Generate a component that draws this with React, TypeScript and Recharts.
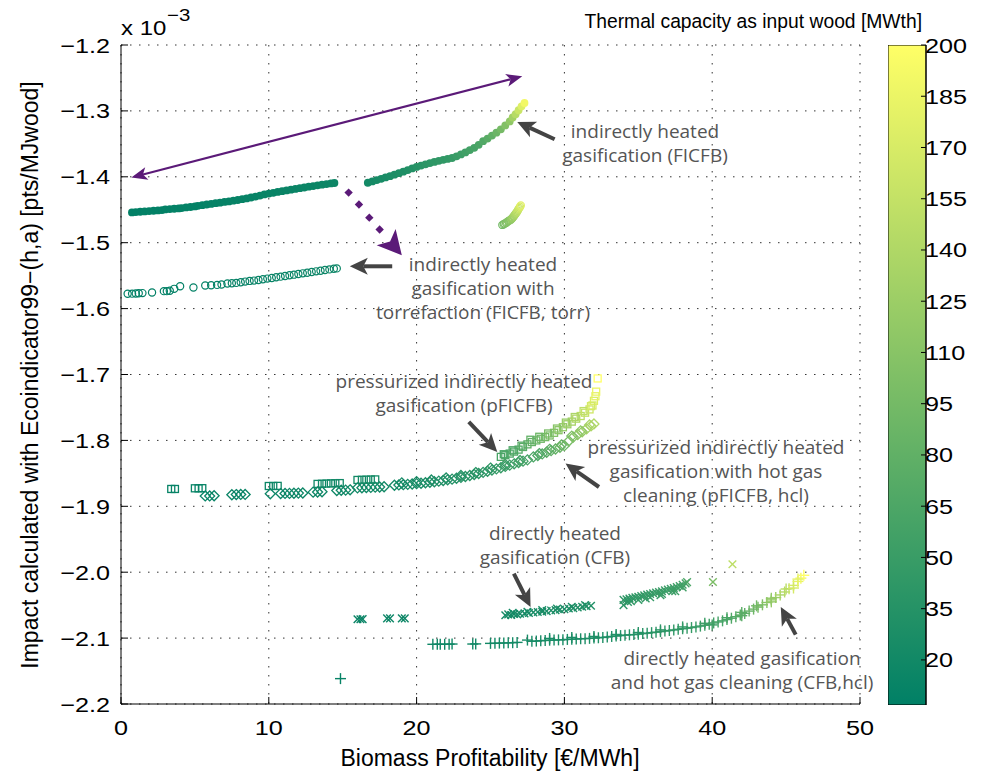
import React from 'react';
import { ScatterChart, Scatter, XAxis, YAxis, CartesianGrid, ReferenceLine, BarChart, Bar } from 'recharts';

type Pt = [number, number, number]; // [profitability €/MWh, impact x1e-3, capacity MWth]

const xTicks = [0, 10, 20, 30, 40, 50];
const yTicks = [-2.2, -2.1, -2.0, -1.9, -1.8, -1.7, -1.6, -1.5, -1.4, -1.3, -1.2];
const cbTicks = [20, 35, 50, 65, 80, 95, 110, 125, 140, 155, 170, 185, 200];
const cbRange: [number, number] = [6.8, 200];

// FICFB (filled dots)
const ficfb: Pt[] = [
  [0.74,-1.4540,8],[1.0,-1.4535,8],[1.3,-1.4530,8],[1.6,-1.4525,9],[1.9,-1.4520,9],[2.2,-1.4515,9],[2.5,-1.4510,9],[2.77,-1.4505,9],
  [3.0,-1.4495,9],[3.3,-1.4490,9],[3.6,-1.4485,10],[3.9,-1.4480,10],[4.1,-1.4475,10],
  [4.4,-1.4465,10],[4.7,-1.4458,10],[5.0,-1.4450,10],
  [5.2,-1.4440,10],[5.5,-1.4430,10],[5.8,-1.4420,11],[6.1,-1.4412,11],[6.4,-1.4400,11],[6.7,-1.4392,11],[7.0,-1.4382,11],[7.3,-1.4373,11],
  [7.6,-1.4362,12],[7.9,-1.4352,12],[8.2,-1.4340,12],[8.5,-1.4328,12],[8.8,-1.4314,12],[9.1,-1.4300,12],[9.4,-1.4285,13],[9.7,-1.4268,13],
  [10.0,-1.4255,13],[10.3,-1.4243,13],[10.6,-1.4230,13],[10.9,-1.4218,14],[11.2,-1.4207,14],[11.5,-1.4195,14],[11.8,-1.4184,14],[12.1,-1.4173,15],
  [12.4,-1.4162,15],[12.7,-1.4150,15],[13.0,-1.4140,15],[13.3,-1.4130,16],[13.6,-1.4120,16],[13.9,-1.4110,16],[14.2,-1.4100,16],[14.44,-1.4094,17],
  [16.7,-1.4090,22],[17.0,-1.4070,23],[17.3,-1.4050,24],[17.6,-1.4030,25],[17.9,-1.4010,26],[18.2,-1.3990,27],[18.5,-1.3968,28],[18.8,-1.3945,29],
  [19.1,-1.3922,30],[19.4,-1.3898,32],[19.7,-1.3873,34],[20.0,-1.3850,36],[20.3,-1.3830,38],[20.6,-1.3810,40],[20.9,-1.3792,41],[21.2,-1.3775,42],
  [21.5,-1.3758,43],[21.8,-1.3742,44],[22.1,-1.3728,45],[22.4,-1.3715,47],[22.7,-1.3690,50],[23.0,-1.3660,52],[23.3,-1.3630,55],[23.6,-1.3595,58],
  [23.9,-1.3560,60],[24.2,-1.3515,64],[24.5,-1.3460,68],[24.8,-1.3420,74],[25.1,-1.3375,80],[25.4,-1.3330,88],[25.7,-1.3280,96],[26.0,-1.3220,105],
  [26.3,-1.3160,115],[26.5,-1.3100,130],[26.7,-1.3050,145],[26.9,-1.2990,160],[27.1,-1.2930,175],[27.3,-1.2880,190],
];

// small open-circle cluster near FICFB end
const ficfbCluster: Pt[] = [
  [25.8,-1.4730,95],[25.9,-1.4720,98],[25.95,-1.4710,100],[26.05,-1.4700,103],[26.1,-1.4690,105],[26.2,-1.4675,108],[26.25,-1.4665,110],
  [26.35,-1.4655,114],[26.4,-1.4645,118],[26.45,-1.4632,121],[26.5,-1.4620,125],[26.55,-1.4605,128],[26.6,-1.4590,132],[26.65,-1.4575,136],
  [26.7,-1.4560,140],[26.75,-1.4545,145],[26.8,-1.4530,150],[26.85,-1.4510,155],[26.9,-1.4490,160],[26.95,-1.4472,165],[27.0,-1.4455,170],[27.05,-1.4435,178],
];

// FICFB, torr (open circles)
const torr: Pt[] = [
  [0.45,-1.5775,8],[0.75,-1.5773,8],[1.0,-1.5770,8],[1.2,-1.5768,8],[1.45,-1.5765,8],[2.1,-1.5755,8],[2.9,-1.5735,9],[3.1,-1.5735,9],
  [3.3,-1.5730,9],[3.6,-1.5700,9],[4.0,-1.5660,9],[4.9,-1.5680,10],[5.7,-1.5650,10],[6.1,-1.5645,10],[6.5,-1.5640,10],[6.8,-1.5635,10],
  [7.2,-1.5620,10],[7.5,-1.5615,11],[7.8,-1.5610,11],[8.1,-1.5600,11],[8.4,-1.5590,11],[8.7,-1.5580,11],[9.0,-1.5575,11],[9.3,-1.5565,12],
  [9.6,-1.5555,12],[9.9,-1.5545,12],[10.2,-1.5535,12],[10.5,-1.5525,12],[10.8,-1.5515,12],[11.1,-1.5505,13],[11.4,-1.5495,13],[11.7,-1.5485,13],
  [12.0,-1.5475,13],[12.3,-1.5465,13],[12.6,-1.5455,14],[12.9,-1.5445,14],[13.2,-1.5435,14],[13.5,-1.5425,14],[13.8,-1.5415,15],[14.1,-1.5405,15],
  [14.4,-1.5395,15],[14.6,-1.5390,15],
];

// pFICFB (squares)
const pficfb: Pt[] = [
  [3.4,-1.8737,12],[3.65,-1.8737,12],[5.0,-1.8727,13],[5.25,-1.8727,13],[5.5,-1.8725,13],[10.0,-1.8692,16],[10.3,-1.8692,16],[10.6,-1.8690,17],
  [13.3,-1.8660,18],[13.6,-1.8658,18],[13.9,-1.8655,19],[14.2,-1.8652,19],[14.5,-1.8650,19],[14.8,-1.8648,20],[16.0,-1.8600,21],[16.3,-1.8598,21],
  [16.6,-1.8596,22],[16.9,-1.8594,22],[17.2,-1.8592,23],
  [25.7,-1.8250,62],[26.0,-1.8225,64],[26.3,-1.8200,66],[26.6,-1.8170,68],[26.9,-1.8140,70],[27.2,-1.8100,74],[27.5,-1.8060,78],[27.8,-1.8025,82],
  [28.1,-1.8000,86],[28.4,-1.7975,90],[28.7,-1.7950,95],[29.0,-1.7925,100],[29.3,-1.7885,106],[29.6,-1.7845,112],[29.9,-1.7800,118],[30.2,-1.7755,125],
  [30.5,-1.7715,132],[30.8,-1.7670,140],[31.1,-1.7630,148],[31.4,-1.7580,156],[31.7,-1.7530,164],[31.9,-1.7470,170],[32.0,-1.7400,175],[32.1,-1.7330,180],
  [32.15,-1.7260,185],[32.25,-1.7060,200],
  [25.9,-1.8210,63],[26.5,-1.8150,67],[27.1,-1.8080,73],[27.7,-1.7990,81],[28.3,-1.7945,89],[28.9,-1.7895,98],[29.5,-1.7820,110],[30.1,-1.7730,122],
  [30.7,-1.7645,137],[31.3,-1.7555,152],[31.8,-1.7480,168],
];

// pFICFB, hcl (diamonds)
const pficfbHcl: Pt[] = [
  [5.7,-1.8843,13],[6.0,-1.8843,13],[6.3,-1.8840,13],[7.5,-1.8825,14],[7.8,-1.8822,14],[8.1,-1.8820,14],[8.4,-1.8820,14],[10.1,-1.8810,15],
  [10.8,-1.8807,15],[11.1,-1.8805,15],[11.4,-1.8804,16],[11.7,-1.8802,16],[12.0,-1.8800,16],[12.3,-1.8798,16],[13.0,-1.8785,17],[13.3,-1.8783,17],
  [13.6,-1.8780,17],[14.6,-1.8760,18],[14.9,-1.8757,18],[15.2,-1.8754,18],[15.5,-1.8750,19],[16.0,-1.8720,19],[16.3,-1.8718,20],[16.6,-1.8716,20],
  [16.9,-1.8713,20],[17.2,-1.8710,21],[17.5,-1.8707,21],[17.8,-1.8704,21],
  [18.5,-1.8680,22],[18.8,-1.8676,23],[19.1,-1.8672,23],[19.4,-1.8667,24],[19.7,-1.8662,24],[20.0,-1.8656,25],[20.3,-1.8650,26],[20.6,-1.8643,27],
  [20.9,-1.8635,28],[21.2,-1.8627,29],[21.5,-1.8618,30],[21.8,-1.8608,31],[22.1,-1.8598,32],[22.4,-1.8588,33],[22.7,-1.8575,34],[23.0,-1.8562,35],
  [23.3,-1.8548,36],[23.6,-1.8533,37],[23.9,-1.8518,38],[24.2,-1.8502,39],[24.5,-1.8485,40],[24.8,-1.8468,42],[25.1,-1.8450,44],[25.4,-1.8432,46],
  [25.7,-1.8415,48],[26.0,-1.8395,50],[26.3,-1.8375,52],[26.6,-1.8355,54],[26.9,-1.8335,56],[27.2,-1.8315,58],[27.5,-1.8295,60],
  [27.9,-1.8250,64],[28.2,-1.8230,66],[28.5,-1.8205,70],[28.8,-1.8180,74],[29.1,-1.8155,78],[29.4,-1.8130,82],[29.7,-1.8105,86],[30.0,-1.8080,90],
  [30.3,-1.8010,98],[30.6,-1.7950,105],[30.9,-1.7910,112],[31.2,-1.7870,120],[31.5,-1.7825,128],[31.8,-1.7780,136],[32.0,-1.7750,142],
  [19.0,-1.8645,23],[20.0,-1.8625,25],[21.0,-1.8600,28],[22.0,-1.8570,31],[23.0,-1.8532,35],[24.0,-1.8488,38],[25.0,-1.8420,43],[26.0,-1.8365,50],
  [27.0,-1.8305,57],[28.3,-1.8200,67],[29.0,-1.8135,77],[29.8,-1.8070,87],[30.5,-1.7935,103],[31.1,-1.7855,117],[31.7,-1.7765,134],
];

// CFB (x markers)
const cfb: Pt[] = [
  [16.0,-2.0715,14],[16.2,-2.0715,14],[16.35,-2.0712,14],[18.0,-2.0700,16],[18.2,-2.0700,16],[19.0,-2.0700,17],[19.2,-2.0700,17],
  [26.0,-2.0654,22],[26.2,-2.0640,22],[26.4,-2.0650,22],[26.6,-2.0635,23],[26.8,-2.0640,23],[27.0,-2.0630,23],[27.3,-2.0625,24],[27.6,-2.0620,24],
  [27.9,-2.0610,25],[28.2,-2.0605,25],[28.5,-2.0600,26],[28.8,-2.0590,26],[29.1,-2.0580,27],[29.4,-2.0575,27],[29.7,-2.0565,28],[30.0,-2.0560,28],
  [30.3,-2.0550,29],[30.6,-2.0545,29],[30.9,-2.0535,30],[31.2,-2.0525,30],[31.5,-2.0515,31],[31.8,-2.0510,31],
  [26.5,-2.0615,22],[27.5,-2.0600,24],[28.5,-2.0575,26],[29.5,-2.0550,27],[30.5,-2.0525,29],[31.4,-2.0500,31],
  [34.0,-2.0500,40],[34.0,-2.0420,42],[34.2,-2.0410,42],[34.4,-2.0400,43],[34.5,-2.0440,43],[34.6,-2.0390,43],[34.8,-2.0380,44],[35.0,-2.0372,45],
  [35.2,-2.0362,45],[35.4,-2.0352,46],[35.5,-2.0400,46],[35.6,-2.0340,46],[35.8,-2.0330,47],[36.0,-2.0320,48],[36.2,-2.0310,48],[36.4,-2.0300,49],
  [36.5,-2.0350,49],[36.6,-2.0290,50],[36.8,-2.0275,50],[37.0,-2.0265,51],[37.2,-2.0252,52],[37.4,-2.0240,52],[37.5,-2.0290,53],[37.6,-2.0225,53],
  [37.8,-2.0210,54],[38.0,-2.0190,55],[38.2,-2.0170,60],[38.3,-2.0150,65],
  [34.3,-2.0450,42],[35.0,-2.0420,45],[35.8,-2.0380,47],[36.6,-2.0330,50],[37.3,-2.0290,52],[38.0,-2.0230,55],
  [40.05,-2.0148,100],[41.37,-1.9880,150],
];

// CFB, hcl (+ markers)
const cfbHcl: Pt[] = [
  [14.85,-2.1615,12],
  [21.1,-2.1094,18],[21.4,-2.1094,18],[21.6,-2.1092,18],[21.9,-2.1094,19],[22.2,-2.1092,19],[22.4,-2.1090,19],[23.8,-2.1090,20],[24.0,-2.1088,20],
  [25.0,-2.1080,21],[25.3,-2.1078,21],[25.6,-2.1076,21],[25.9,-2.1074,22],[26.2,-2.1072,22],[26.5,-2.1070,22],[26.8,-2.1065,23],[27.8,-2.1048,24],
  [28.1,-2.1045,24],[28.4,-2.1040,24],[28.7,-2.1036,25],[29.0,-2.1032,25],[29.3,-2.1030,25],[29.6,-2.1027,26],[29.9,-2.1024,26],[30.2,-2.1020,27],
  [30.5,-2.1017,27],[30.8,-2.1014,27],[31.1,-2.1010,28],[31.4,-2.1008,28],[31.7,-2.1004,29],[32.0,-2.1000,29],[32.3,-2.0995,30],[32.6,-2.0990,30],
  [32.9,-2.0983,31],[33.2,-2.0975,31],[33.5,-2.0968,32],[33.8,-2.0962,32],[34.1,-2.0955,33],[34.4,-2.0950,34],[34.7,-2.0947,34],[35.0,-2.0940,35],
  [35.3,-2.0932,36],[35.6,-2.0925,37],[35.9,-2.0917,38],[36.2,-2.0910,39],[36.5,-2.0902,40],[36.8,-2.0893,41],[37.1,-2.0885,42],[37.4,-2.0876,43],
  [37.7,-2.0867,44],[38.0,-2.0858,45],[38.3,-2.0850,46],[38.6,-2.0840,47],[38.9,-2.0830,48],[39.2,-2.0818,50],[39.5,-2.0805,52],[39.8,-2.0790,54],
  [40.1,-2.0770,56],[40.4,-2.0755,58],[40.7,-2.0738,60],[41.0,-2.0718,63],[41.3,-2.0698,66],[41.6,-2.0675,70],[41.9,-2.0650,74],[42.2,-2.0625,78],
  [42.5,-2.0590,84],[42.8,-2.0560,90],[43.1,-2.0530,96],[43.4,-2.0495,103],[43.7,-2.0460,110],[44.0,-2.0420,118],[44.3,-2.0385,126],[44.6,-2.0345,135],
  [44.9,-2.0300,145],[45.2,-2.0250,156],[45.5,-2.0200,168],[45.8,-2.0140,180],[46.0,-2.0090,190],[46.2,-2.0047,200],
  [27.5,-2.1030,24],[29.0,-2.1005,25],[30.5,-2.0990,27],[32.0,-2.0975,29],[33.5,-2.0945,32],[35.0,-2.0915,35],[36.5,-2.0875,40],[38.0,-2.0830,45],
  [39.5,-2.0775,52],[41.0,-2.0690,63],[42.0,-2.0610,76],[43.0,-2.0510,94],[44.0,-2.0395,118],[45.0,-2.0255,148],[45.8,-2.0105,180],
  [40.0,-2.0800,55],[42.0,-2.0660,76],[44.0,-2.0450,118],[45.5,-2.0240,168],
];

// purple dotted arrow dots
const purpleDots: [number, number][] = [[15.4,-1.424],[16.1,-1.442],[16.8,-1.462],[17.5,-1.480]];

// arrows: [x1, y1, x2(tip), y2(tip)]
const purpleDouble: [number, number, number, number] = [0.7, -1.401, 27.15, -1.2475];
const purpleDottedHead: [number, number, number, number] = [17.5, -1.480, 19.0, -1.519];
const grayArrows: [number, number, number, number][] = [
  [29.34, -1.3431, 26.81, -1.3168],
  [18.35, -1.5358, 15.48, -1.5358],
  [23.53, -1.7720, 25.46, -1.8176],
  [32.34, -1.8707, 30.08, -1.8352],
  [26.58, -2.0021, 27.71, -2.0528],
  [45.65, -2.0947, 44.64, -2.0528],
];

const annotations: { x: number; y: number; lines: string[] }[] = [
  { x: 645, y: 138, lines: ['indirectly heated', 'gasification (FICFB)'] },
  { x: 483, y: 271, lines: ['indirectly heated', 'gasification with', 'torrefaction (FICFB, torr)'] },
  { x: 464, y: 388, lines: ['pressurized indirectly heated', 'gasification (pFICFB)'] },
  { x: 716, y: 454, lines: ['pressurized indirectly heated', 'gasification with hot gas', 'cleaning (pFICFB, hcl)'] },
  { x: 555, y: 540, lines: ['directly heated', 'gasification (CFB)'] },
  { x: 742, y: 665, lines: ['directly heated gasification', 'and hot gas cleaning (CFB,hcl)'] },
];

const CMIN = cbRange[0];
const CMAX = cbRange[1];
function summer(c: number): string {
  const t = Math.max(0, Math.min(1, (c - CMIN) / (CMAX - CMIN)));
  return `rgb(${Math.round(255 * t)},${Math.round(255 * (0.5 + 0.5 * t))},102)`;
}

const rows = (pts: Pt[]) => pts.map(([x, y, c]) => ({ x, y, c }));

const FONT = '"Liberation Sans", Arial, Helvetica, sans-serif';
const ANN_FONT = '"Open Sans", "Noto Sans", sans-serif';
const PURPLE = '#5b1a78';
const GRAY = '#444444';
const SX = 1.2; // horizontal stretch of tick text

const makeShape = (kind: string) => (props: any) => {
  const { cx, cy, payload } = props;
  if (cx == null || cy == null) return <g />;
  const col = payload && payload.c != null ? summer(payload.c) : PURPLE;
  switch (kind) {
    case 'dot':
      return <circle cx={cx} cy={cy} r={3.9} fill={col} />;
    case 'ocircle':
      return <circle cx={cx} cy={cy} r={3.6} fill="none" stroke={col} strokeWidth={1.2} />;
    case 'square':
      return <rect x={cx - 3.5} y={cy - 3.5} width={7} height={7} fill="none" stroke={col} strokeWidth={1.3} />;
    case 'diamond':
      return <polygon points={`${cx},${cy - 5} ${cx + 5},${cy} ${cx},${cy + 5} ${cx - 5},${cy}`} fill="none" stroke={col} strokeWidth={1.3} />;
    case 'x':
      return (
        <g stroke={col} strokeWidth={1.4}>
          <line x1={cx - 3.8} y1={cy - 3.8} x2={cx + 3.8} y2={cy + 3.8} />
          <line x1={cx - 3.8} y1={cy + 3.8} x2={cx + 3.8} y2={cy - 3.8} />
        </g>
      );
    case 'plus':
      return (
        <g stroke={col} strokeWidth={1.4}>
          <line x1={cx - 5.5} y1={cy} x2={cx + 5.5} y2={cy} />
          <line x1={cx} y1={cy - 5.5} x2={cx} y2={cy + 5.5} />
        </g>
      );
    case 'pdiamond':
      return <polygon points={`${cx},${cy - 4.2} ${cx + 4.2},${cy} ${cx},${cy + 4.2} ${cx - 4.2},${cy}`} fill={PURPLE} />;
    default:
      return <g />;
  }
};

function headPoints(x1: number, y1: number, x2: number, y2: number, L: number, W: number, notch: number) {
  const dx = x2 - x1, dy = y2 - y1;
  const len = Math.hypot(dx, dy) || 1;
  const ux = dx / len, uy = dy / len;
  const px = -uy, py = ux;
  const bx = x2 - ux * L, by = y2 - uy * L;
  const nx = x2 - ux * L * notch, ny = y2 - uy * L * notch;
  return {
    pts: `${x2},${y2} ${bx + px * W},${by + py * W} ${nx},${ny} ${bx - px * W},${by - py * W}`,
    nx, ny,
  };
}

const arrowShape = (color: string, width: number, L: number, W: number, double: boolean, lineToo: boolean) => (p: any) => {
  const { x1, y1, x2, y2 } = p;
  if ([x1, y1, x2, y2].some((v) => v == null || isNaN(v))) return <g />;
  const h2 = headPoints(x1, y1, x2, y2, L, W, 0.75);
  const h1 = double ? headPoints(x2, y2, x1, y1, L, W, 0.75) : null;
  const sx = h1 ? h1.nx : x1, sy = h1 ? h1.ny : y1;
  return (
    <g>
      {lineToo && <line x1={sx} y1={sy} x2={h2.nx} y2={h2.ny} stroke={color} strokeWidth={width} />}
      <polygon points={h2.pts} fill={color} />
      {h1 && <polygon points={h1.pts} fill={color} />}
    </g>
  );
};

const fmtY = (v: number) => v.toFixed(1).replace('-', '\u2212');

const StretchText = ({ x, y, anchor, size, children }: any) => (
  <text transform={`translate(${x},${y}) scale(${SX},1)`} x={0} y={0} textAnchor={anchor} fontFamily={FONT} fontSize={size} fill="#000">
    {children}
  </text>
);

const XTick = (p: any) => <StretchText x={p.x} y={p.y + 38} anchor="middle" size={21}>{p.payload.value}</StretchText>;
const YTick = (p: any) => <StretchText x={p.x - 18} y={p.y + 7.5} anchor="end" size={21}>{fmtY(p.payload.value)}</StretchText>;
const CbTick = (p: any) => <StretchText x={p.x + 4} y={p.y + 7.5} anchor="start" size={21}>{p.payload.value}</StretchText>;

const cbData = [{ name: 'cb', range: cbRange }];

export default function App() {
  return (
    <div style={{ position: 'absolute', left: 0, top: 0, width: 985, height: 774, background: '#fff' }}>
      <div style={{ position: 'absolute', left: 0, top: 0 }}>
        <ScatterChart width={985} height={774} margin={{ top: 45, right: 125, bottom: 40, left: 61 }}>
          <CartesianGrid stroke="#333" strokeDasharray="1.5 7.5" strokeWidth={1} />
          <XAxis
            type="number" dataKey="x" domain={[0, 50]} ticks={xTicks} allowDataOverflow height={30}
            axisLine={{ stroke: '#000' }} tickLine={{ stroke: '#000' }} tickSize={-7} tickMargin={0} tick={<XTick />}
          />
          <YAxis
            type="number" dataKey="y" domain={[-2.2, -1.2]} ticks={yTicks} allowDataOverflow width={60}
            axisLine={{ stroke: '#000' }} tickLine={{ stroke: '#000' }} tickSize={-7} tickMargin={0} tick={<YTick />}
          />
          <Scatter data={rows(torr)} shape={makeShape('ocircle')} isAnimationActive={false} />
          <Scatter data={rows(ficfbCluster)} shape={makeShape('ocircle')} isAnimationActive={false} />
          <Scatter data={rows(ficfb)} shape={makeShape('dot')} isAnimationActive={false} />
          <Scatter data={rows(pficfbHcl)} shape={makeShape('diamond')} isAnimationActive={false} />
          <Scatter data={rows(pficfb)} shape={makeShape('square')} isAnimationActive={false} />
          <Scatter data={rows(cfb)} shape={makeShape('x')} isAnimationActive={false} />
          <Scatter data={rows(cfbHcl)} shape={makeShape('plus')} isAnimationActive={false} />
          <Scatter data={purpleDots.map(([x, y]) => ({ x, y }))} shape={makeShape('pdiamond')} isAnimationActive={false} />
          <ReferenceLine
            segment={[{ x: purpleDouble[0], y: purpleDouble[1] }, { x: purpleDouble[2], y: purpleDouble[3] }]}
            ifOverflow="visible" shape={arrowShape(PURPLE, 2.2, 16, 6.5, true, true)}
          />
          <ReferenceLine
            segment={[{ x: purpleDottedHead[0], y: purpleDottedHead[1] }, { x: purpleDottedHead[2], y: purpleDottedHead[3] }]}
            ifOverflow="visible" shape={arrowShape(PURPLE, 2, 24, 12.5, false, false)}
          />
          {grayArrows.map((a, i) => (
            <ReferenceLine
              key={i}
              segment={[{ x: a[0], y: a[1] }, { x: a[2], y: a[3] }]}
              ifOverflow="visible" shape={arrowShape(GRAY, 4, 18, 8.5, false, true)}
            />
          ))}
        </ScatterChart>
      </div>
      <div style={{ position: 'absolute', left: 888, top: 0 }}>
        <BarChart width={97} height={774} data={cbData} margin={{ top: 45, right: 0, bottom: 69, left: 0 }} barCategoryGap={0}>
          <defs>
            <linearGradient id="cbGrad" x1="0" y1="0" x2="0" y2="1">
              <stop offset="0" stopColor={summer(cbRange[1])} />
              <stop offset="1" stopColor={summer(cbRange[0])} />
            </linearGradient>
          </defs>
          <XAxis dataKey="name" type="category" hide />
          <YAxis yAxisId="l" orientation="left" width={0} type="number" domain={cbRange} ticks={cbTicks} allowDataOverflow
            axisLine={{ stroke: '#000' }} tickLine={{ stroke: '#000' }} tickSize={-5} tick={false} />
          <YAxis yAxisId="r" orientation="right" width={59} type="number" domain={cbRange} ticks={cbTicks} allowDataOverflow
            axisLine={{ stroke: '#000' }} tickLine={{ stroke: '#000' }} tickSize={-5} tickMargin={0} tick={<CbTick />} />
          <Bar yAxisId="r" dataKey="range" fill="url(#cbGrad)" stroke="#000" strokeWidth={1} isAnimationActive={false} />
        </BarChart>
      </div>
      <svg width={985} height={774} style={{ position: 'absolute', left: 0, top: 0, pointerEvents: 'none' }}>
        <text x={922} y={28} textAnchor="end" fontFamily={FONT} fontSize={19.3} fill="#000">Thermal capacity as input wood [MWth]</text>
        <StretchText x={121} y={35} anchor="start" size={20}>x 10</StretchText>
        <StretchText x={167} y={21} anchor="start" size={17}>{'\u22123'}</StretchText>
        <text x={490} y={766} textAnchor="middle" fontFamily={FONT} fontSize={23} fill="#000">Biomass Profitability [€/MWh]</text>
        <text x={0} y={0} transform="translate(38,375) rotate(-90)" textAnchor="middle" fontFamily={FONT} fontSize={23} fill="#000">
          Impact calculated with Ecoindicator99−(h,a) [pts/MJwood]
        </text>
        {annotations.map((a, i) => (
          <text key={i} x={a.x} y={a.y} textAnchor="middle" fontFamily={ANN_FONT} fontSize={19} fill="#555">
            {a.lines.map((l, j) => (
              <tspan key={j} x={a.x} dy={j === 0 ? 0 : 24}>{l}</tspan>
            ))}
          </text>
        ))}
      </svg>
    </div>
  );
}
